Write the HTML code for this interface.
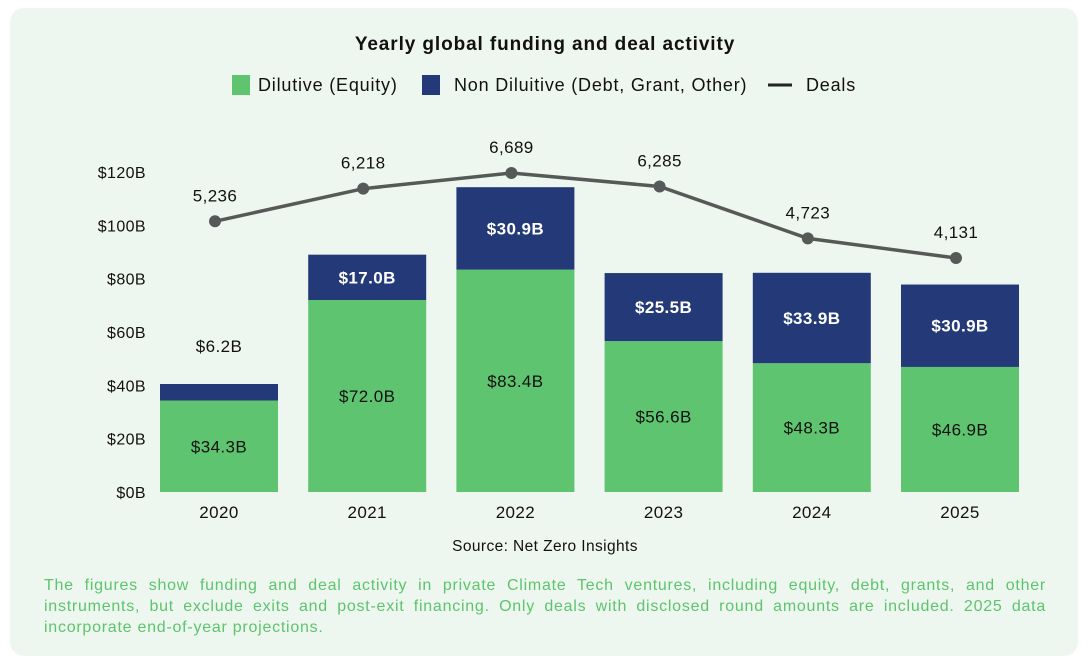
<!DOCTYPE html>
<html><head><meta charset="utf-8"><style>
html,body{margin:0;padding:0;background:#fff;}
body{width:1088px;height:664px;position:relative;font-family:"Liberation Sans",sans-serif;overflow:hidden;}
#card{position:absolute;left:10px;top:8px;width:1068px;height:648px;background:#eef7ef;border-radius:14px;}
#note{position:absolute;left:44px;top:575px;width:1002px;color:#5cc46c;font-size:16px;letter-spacing:0.75px;line-height:21px;text-align:justify;}
svg text{letter-spacing:0.4px;}
</style></head><body>
<div id="card"></div>
<svg id="chart" width="1088" height="664" style="position:absolute;left:0;top:0">
<text x="545" y="50" text-anchor="middle" font-size="19" font-weight="bold" fill="#111" style="letter-spacing:0.9px">Yearly global funding and deal activity</text>
<g>
<rect x="232" y="75" width="18" height="20" fill="#5ec46f"/>
<text x="258" y="91" font-size="18" fill="#111" style="letter-spacing:0.8px">Dilutive (Equity)</text>
<rect x="422" y="75" width="18" height="20" fill="#243a78"/>
<text x="454" y="91" font-size="18" fill="#111" style="letter-spacing:0.8px">Non Diluitive (Debt, Grant, Other)</text>
<line x1="768" y1="85" x2="792" y2="85" stroke="#222" stroke-width="3"/>
<text x="806" y="91" font-size="18" fill="#111" style="letter-spacing:0.8px">Deals</text>
</g>
<g id="axis"></g><g id="bars"></g><g id="line"></g>
<text x="545" y="551" text-anchor="middle" font-size="15.5" fill="#111">Source: Net Zero Insights</text>
</svg>
<div id="note">The figures show funding and deal activity in private Climate Tech ventures, including equity, debt, grants, and other instruments, but exclude exits and post-exit financing. Only deals with disclosed round amounts are included. 2025 data incorporate end-of-year projections.</div>
<script>
const years=["2020","2021","2022","2023","2024","2025"];
const dilutive=[34.3,72.0,83.4,56.6,48.3,46.9];
const nonDilutive=[6.2,17.0,30.9,25.5,33.9,30.9];
const deals=[5236,6218,6689,6285,4723,4131];
const yTicks=[0,20,40,60,80,100,120];
const NS="http://www.w3.org/2000/svg";
function y(v){return 492-v*(320/120);}
function x(i){return 219+i*148.2;}
function yd(d){return 395.3-d*0.03323;}
function mk(tag,attrs,parent,text){const e=document.createElementNS(NS,tag);for(const k in attrs)e.setAttribute(k,attrs[k]);if(text!==undefined)e.textContent=text;parent.appendChild(e);return e;}
const ax=document.getElementById('axis'),bars=document.getElementById('bars'),ln=document.getElementById('line');
yTicks.forEach(t=>{const e=mk('text',{x:146,y:y(t)+6,'text-anchor':'end','font-size':16,fill:'#111'},ax,'$'+t+'B');

});
years.forEach((yr,i)=>{const cx=x(i),w=118;
const g=mk('rect',{x:cx-w/2,y:y(dilutive[i]),width:w,height:y(0)-y(dilutive[i]),fill:'#5ec46f'},bars);


const top=dilutive[i]+nonDilutive[i];
const b=mk('rect',{x:cx-w/2,y:y(top),width:w,height:y(dilutive[i])-y(top),fill:'#243a78'},bars);


const l1=mk('text',{x:cx,y:(y(dilutive[i])+y(0))/2+6,'text-anchor':'middle','font-size':17,fill:'#111'},bars,'$'+dilutive[i].toFixed(1)+'B');


const h=y(dilutive[i])-y(top);
const inside=h>30;
const l2=mk('text',{x:cx,y:inside?(y(top)+y(dilutive[i]))/2+6:y(top)-32,'text-anchor':'middle','font-size':17,'font-weight':inside?'bold':'normal',fill:inside?'#fff':'#111'},bars,'$'+nonDilutive[i].toFixed(1)+'B');


const xl=mk('text',{x:cx,y:518,'text-anchor':'middle','font-size':17,fill:'#111'},ax,yr);


});
const pts=deals.map((d,i)=>x(i)-4+','+yd(d)).join(' ');
const pl=mk('polyline',{points:pts,fill:'none',stroke:'#555a58','stroke-width':3.5},ln);


deals.forEach((d,i)=>{
const c=mk('circle',{cx:x(i)-4,cy:yd(d),r:6,fill:'#555a58'},ln);


const t=mk('text',{x:x(i)-4,y:yd(d)-20,'text-anchor':'middle','font-size':17,fill:'#111'},ln,d.toLocaleString('en-US'));


});
</script>
</body></html>
